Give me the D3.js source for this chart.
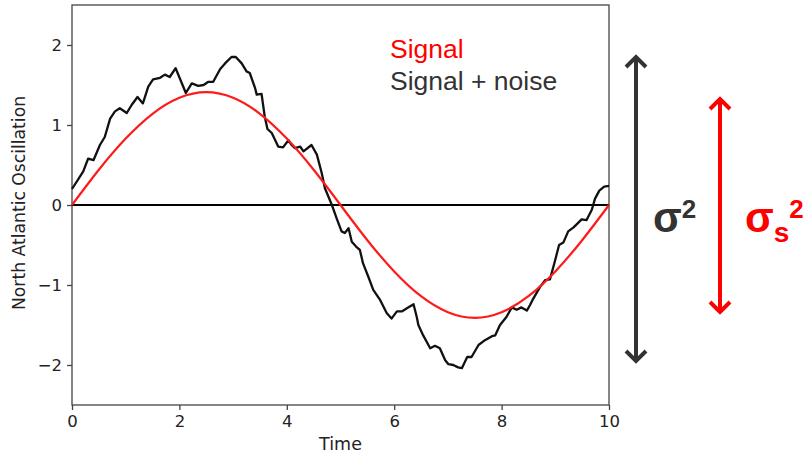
<!DOCTYPE html>
<html>
<head>
<meta charset="utf-8">
<script src="https://cdn.jsdelivr.net/npm/d3@7"></script>
<style>
  body { margin: 0; background: #fff; }
  svg { display: block; }
</style>
</head>
<body>
<div id="chart"></div>
<script>
// signal
const signalTime = [0, 0.5, 1, 1.5, 2, 2.5, 3, 3.5, 4, 4.5, 5, 5.5, 6, 6.5, 7, 7.5, 8, 8.5, 9, 9.5, 10]
const signalValue = [0, 0.44, 0.83, 1.14, 1.34, 1.41, 1.34, 1.14, 0.83, 0.44, 0, -0.44, -0.83, -1.14, -1.34, -1.41, -1.34, -1.14, -0.83, -0.44, 0]

// signal + noise, traced vertex by vertex
const noiseTime = [0, 0.21, 0.30, 0.40, 0.52, 0.61, 0.71, 0.80, 0.89, 1.02, 1.11, 1.22, 1.32, 1.42, 1.51, 1.64, 1.73, 1.82, 1.93,
  2.12, 2.23, 2.35, 2.45, 2.54, 2.63, 2.76, 2.85, 2.97, 3.05, 3.16, 3.25, 3.31, 3.41, 3.44, 3.53, 3.59, 3.64, 3.72, 3.84, 3.93,
  4.03, 4.09, 4.15, 4.25, 4.31, 4.46, 4.56, 4.65, 4.71, 4.84, 4.93, 5.02, 5.08, 5.15, 5.21, 5.29, 5.36, 5.42, 5.52, 5.61, 5.74,
  5.86, 5.95, 6.05, 6.14, 6.26, 6.36, 6.42, 6.45, 6.54, 6.67, 6.76, 6.85, 6.95, 7.01, 7.10, 7.19, 7.26, 7.36, 7.44, 7.57, 7.69,
  7.82, 7.88, 7.97, 8.09, 8.19, 8.28, 8.37, 8.47, 8.53, 8.59, 8.72, 8.81, 8.90, 8.99, 9.07, 9.15, 9.24, 9.34, 9.43, 9.49, 9.58,
  9.68, 9.74, 9.82, 9.91, 10]
const noiseValue = [0.20, 0.42, 0.58, 0.56, 0.75, 0.85, 1.08, 1.17, 1.21, 1.15, 1.25, 1.35, 1.27, 1.48, 1.57, 1.59, 1.63, 1.60, 1.71,
  1.40, 1.52, 1.49, 1.50, 1.54, 1.54, 1.70, 1.77, 1.85, 1.85, 1.77, 1.67, 1.65, 1.46, 1.38, 1.39, 1.10, 0.95, 0.90, 0.73, 0.72,
  0.81, 0.75, 0.71, 0.73, 0.67, 0.75, 0.63, 0.40, 0.21, 0.0, -0.17, -0.33, -0.35, -0.29, -0.46, -0.52, -0.56, -0.73, -0.90, -1.06, -1.19,
  -1.35, -1.42, -1.33, -1.33, -1.28, -1.24, -1.40, -1.50, -1.63, -1.79, -1.76, -1.79, -1.94, -1.99, -2.00, -2.03, -2.04, -1.90, -1.90, -1.75, -1.69,
  -1.64, -1.63, -1.50, -1.40, -1.28, -1.31, -1.28, -1.32, -1.25, -1.17, -1.02, -0.94, -0.93, -0.71, -0.50, -0.47, -0.33, -0.28, -0.22, -0.18, -0.19,
  -0.06, 0.08, 0.18, 0.23, 0.24]

const xTicks = [0, 2, 4, 6, 8, 10]
const yTicks = [-2, -1, 0, 1, 2]
const legendLabels = ['Signal', 'Signal + noise']

const width = 807
const height = 455
const margin = { top: 5, right: 198, bottom: 50, left: 72 }

const svg = d3.select('#chart').append('svg')
  .attr('width', width)
  .attr('height', height)

const x = d3.scaleLinear().domain([0, 10]).range([margin.left, width - margin.right])
const y = d3.scaleLinear().domain([-2.5, 2.5]).range([height - margin.bottom, margin.top])

const tickFont = 'DejaVu Sans, sans-serif'

// axes
const xAxis = svg.append('g')
  .attr('transform', `translate(0,${height - margin.bottom})`)
  .call(d3.axisBottom(x).tickValues(xTicks).tickFormat(d3.format('d')).tickSizeOuter(0).tickSize(5).tickPadding(5))
const yAxis = svg.append('g')
  .attr('transform', `translate(${margin.left},0)`)
  .call(d3.axisLeft(y).tickValues(yTicks).tickFormat(d3.format('d')).tickSizeOuter(0).tickSize(5).tickPadding(5))

;[xAxis, yAxis].forEach(a => {
  a.selectAll('text').attr('font-family', tickFont).attr('font-size', 16.5).attr('fill', '#222')
  a.selectAll('line').attr('stroke', '#444').attr('stroke-width', 1.3)
  a.select('.domain').remove()
})

// frame
svg.append('rect')
  .attr('x', x(0)).attr('y', y(2.5))
  .attr('width', x(10) - x(0)).attr('height', y(-2.5) - y(2.5))
  .attr('fill', 'none').attr('stroke', '#444').attr('stroke-width', 1.3)

// zero line
svg.append('line')
  .attr('x1', x(0)).attr('x2', x(10))
  .attr('y1', y(0)).attr('y2', y(0))
  .attr('stroke', '#000').attr('stroke-width', 2)

const noise = noiseTime.map((t, i) => [t, noiseValue[i]])
const signal = signalTime.map((t, i) => [t, signalValue[i]])

svg.append('path')
  .datum(noise)
  .attr('fill', 'none')
  .attr('stroke', '#111')
  .attr('stroke-width', 2.3)
  .attr('stroke-linejoin', 'round')
  .attr('d', d3.line().x(d => x(d[0])).y(d => y(d[1])))

svg.append('path')
  .datum(signal)
  .attr('fill', 'none')
  .attr('stroke', '#ff1a1a')
  .attr('stroke-width', 2.2)
  .attr('d', d3.line().curve(d3.curveNatural).x(d => x(d[0])).y(d => y(d[1])))

// axis labels
svg.append('text')
  .attr('x', (x(0) + x(10)) / 2)
  .attr('y', 450)
  .attr('text-anchor', 'middle')
  .attr('font-family', tickFont).attr('font-size', 17.5).attr('fill', '#222')
  .text('Time')

svg.append('text')
  .attr('transform', `translate(25,${y(0) - 2}) rotate(-90)`)
  .attr('text-anchor', 'middle')
  .attr('font-family', tickFont).attr('font-size', 17.2).attr('fill', '#222')
  .text('North Atlantic Oscillation')

// legend text
const legendFont = 'Liberation Sans, Arial, sans-serif'
svg.selectAll('.legend')
  .data(legendLabels).enter()
  .append('text')
  .attr('x', 390)
  .attr('y', (d, i) => 58 + i * 32)
  .attr('font-family', legendFont).attr('font-size', 26.5)
  .attr('fill', (d, i) => i === 0 ? '#ff0000' : '#333')
  .text(d => d)

// variance arrows
const arrow = (g, cx, y1, y2, color) => {
  const h = 10
  g.append('path')
    .attr('d', `M${cx},${y1}V${y2}M${cx - h},${y1 + h}L${cx},${y1}L${cx + h},${y1 + h}M${cx - h},${y2 - h}L${cx},${y2}L${cx + h},${y2 - h}`)
    .attr('fill', 'none').attr('stroke', color).attr('stroke-width', 4)
    .attr('stroke-linecap', 'butt').attr('stroke-linejoin', 'miter')
}
const ann = svg.append('g')
arrow(ann, 636, 57, 361, '#333')
arrow(ann, 720, 99, 312, '#ff0000')

ann.append('text')
  .attr('x', 653).attr('y', 232)
  .attr('font-family', legendFont).attr('font-weight', 'bold').attr('font-size', 42).attr('fill', '#333')
  .call(t => {
    t.append('tspan').text('σ')
    t.append('tspan').attr('font-size', 26).attr('dy', -14).text('2')
  })

ann.append('text')
  .attr('x', 745).attr('y', 232)
  .attr('font-family', legendFont).attr('font-weight', 'bold').attr('font-size', 42).attr('fill', '#ff0000')
  .call(t => {
    t.append('tspan').text('σ')
    t.append('tspan').attr('font-size', 28).attr('dy', 10).text('s')
    t.append('tspan').attr('font-size', 26).attr('dy', -24).text('2')
  })
</script>
</body>
</html>
